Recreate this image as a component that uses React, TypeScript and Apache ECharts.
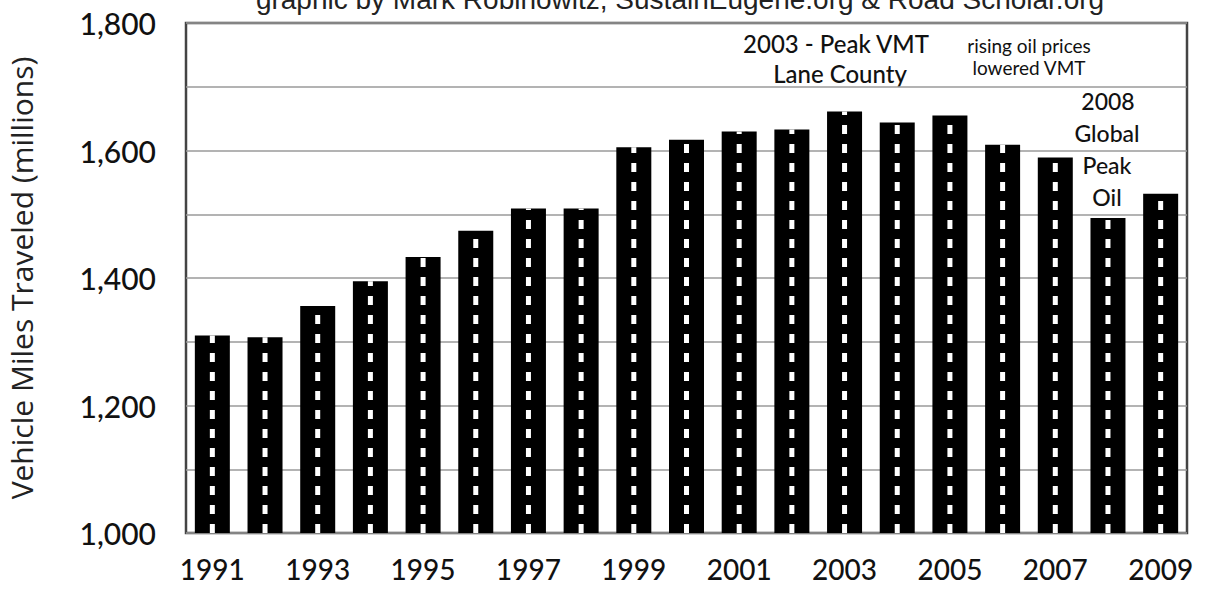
import React, { useEffect, useRef } from "react";
import * as echarts from "echarts";

const years = ["1991","1992","1993","1994","1995","1996","1997","1998","1999","2000","2001","2002","2003","2004","2005","2006","2007","2008","2009"];
const vmt = [1310, 1307, 1356, 1395, 1433, 1474, 1509, 1509, 1605, 1617, 1630, 1633, 1661, 1644, 1655, 1609, 1589, 1494, 1532];
const yTicks = [1000, 1200, 1400, 1600, 1800];
const titleText = "graphic by Mark Robinowitz, SustainEugene.org & Road Scholar.org";
const yName = "Vehicle Miles Traveled (millions)";

const FONT = "Lato, 'Open Sans', sans-serif";

export default function App() {
  const ref = useRef<HTMLDivElement>(null);
  useEffect(() => {
    if (!ref.current) return;
    const chart = echarts.init(ref.current, null, { renderer: "svg" });
    const dashData = years.map((_, i) => [i, vmt[i]]);
    const note = (x: number, y: number, text: string, size: number, weight: any = 500) => ({
      type: "text",
      x,
      y,
      style: { text, fontFamily: FONT, fontSize: size, fontWeight: weight, fill: "#111", align: "center", verticalAlign: "middle" },
    });
    chart.setOption({
      animation: false,
      backgroundColor: "#ffffff",
      grid: {
        left: 186,
        top: 23,
        width: 1001,
        height: 510,
        show: true,
        borderColor: "#444",
        borderWidth: 2.5,
        backgroundColor: "transparent",
        containLabel: false,
        outerBoundsMode: "none",
      },
      xAxis: {
        type: "category",
        data: years,
        boundaryGap: true,
        axisLine: { show: false },
        axisTick: { show: false },
        axisLabel: {
          interval: 1,
          fontFamily: FONT,
          fontSize: 28,
          fontWeight: 500,
          color: "#111",
          margin: 22,
        },
        splitLine: { show: false },
      },
      yAxis: {
        type: "value",
        min: 1000,
        max: 1800,
        interval: 100,
        name: yName,
        nameLocation: "middle",
        nameGap: 150,
        nameTextStyle: { fontFamily: "'Open Sans', Lato, sans-serif", fontSize: 30, fontWeight: 500, color: "#222" },
        axisLine: { show: false },
        axisTick: { show: false },
        axisLabel: {
          margin: 30,
          fontFamily: FONT,
          fontSize: 30,
          fontWeight: 500,
          color: "#111",
          formatter: (v: number) =>
            yTicks.includes(v) ? v.toLocaleString("en-US") : "",
        },
        splitLine: { show: true, lineStyle: { color: "#9a9a9a", width: 1.5 } },
      },
      series: [
        {
          type: "bar",
          data: vmt,
          barWidth: 35,
          itemStyle: { color: "#000" },
          z: 2,
        },
        {
          type: "custom",
          data: dashData,
          z: 3,
          renderItem: (params: any, api: any) => {
            const top = api.coord([api.value(0), api.value(1)]);
            const base = api.coord([api.value(0), 1000]);
            return {
              type: "line",
              shape: { x1: top[0], y1: base[1], x2: top[0], y2: top[1] },
              style: { stroke: "#fff", lineWidth: 5, lineDash: [9, 10] },
            };
          },
        },
      ],
      graphic: [
        {
          type: "text",
          x: 680,
          y: -1,
          style: { text: titleText, fontFamily: "'Liberation Sans', Arial, sans-serif", fontSize: 28, fill: "#222", align: "center", verticalAlign: "middle" },
        },
        note(836, 43, "2003 - Peak VMT", 24),
        note(840, 73, "Lane County", 24),
        note(1029, 45, "rising oil prices", 19, 400),
        note(1029, 67, "lowered VMT", 19, 400),
        note(1108, 101, "2008", 23),
        note(1107, 133, "Global", 23),
        note(1107, 165, "Peak", 23),
        note(1107, 197, "Oil", 23),
      ],
    });
    return () => chart.dispose();
  }, []);
  return (
    <div
      ref={ref}
      style={{ position: "fixed", left: 0, top: 0, width: 1206, height: 592 }}
    />
  );
}
